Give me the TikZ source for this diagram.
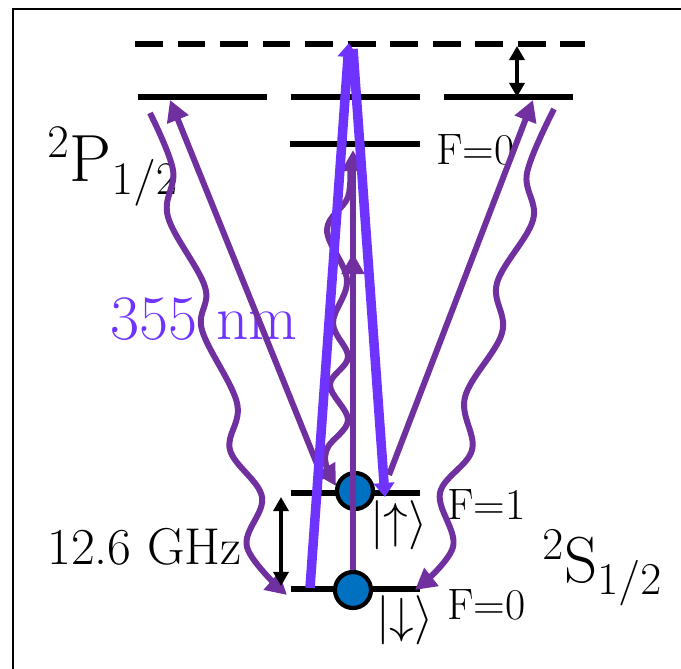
\RequirePackage{fix-cm}
\documentclass[tikz,border=0pt]{standalone}
\definecolor{ionpurple}{RGB}{112,48,160}
\definecolor{laserblue}{RGB}{111,51,255}
\definecolor{ionblue}{RGB}{0,112,192}
\usetikzlibrary{arrows.meta}

\begin{document}
\begin{tikzpicture}[x=0.02cm,y=-0.02cm,
  level/.style={line width=3.8pt},
  pump/.style={ionpurple,line width=3.4pt,-{Triangle[length=12pt,width=12.5pt]}},
  decay/.style={pump,line join=round},
  beam/.style={laserblue,line width=5.4pt,-{Triangle[length=8pt,width=11.5pt]}},
  gap/.style={line width=2.4pt,{Triangle[length=8pt,width=8.5pt]}-{Triangle[length=8pt,width=8.5pt]}},
  ion/.style={draw,circle,fill=ionblue,line width=2.4pt,minimum size=7.2mm,inner sep=0pt},
  lbl/.style={inner sep=0pt,anchor=base west}]
  \useasboundingbox (0,0) rectangle (681,669);
  % Frame
  \draw[line width=0.85pt] (13,669) -- (13,9) -- (681,9);
  % Virtual level
  \draw[level,line width=3pt,dash pattern=on 15.9pt off 8.3pt] (135,44) -- (585,44);
  % P levels
  \foreach \x in {138,291,444}
    \draw[level] (\x,97) -- +(129,0);
  \draw[level] (290,144) -- +(130,0);
  % S levels
  \draw[level,line width=3.3pt] (291,493) -- +(129,0);
  \draw[level,line width=3.3pt] (291,589) -- +(129,0);
  % Labels
  \node[lbl,font=\fontsize{38}{40}\selectfont] (pterm) at (47,182) {$^2$P$_{1/2}$};
  \node[lbl,font=\fontsize{37}{40}\selectfont] (sterm) at (542,583) {$^2$S$_{1/2}$};
  \node[lbl,font=\fontsize{36}{40}\selectfont,text=laserblue] (wavelen) at (110,340) {355 nm};
  \node[lbl,font=\fontsize{29.5}{32}\selectfont] (hfs) at (47,565) {12.6 GHz};
  \node[lbl,font=\fontsize{25}{28}\selectfont] (pF0lbl) at (436,165) {F=0};
  \node[lbl,font=\fontsize{25}{28}\selectfont] (sF1lbl) at (447,520) {F=1};
  \node[lbl,font=\fontsize{25}{28}\selectfont] (sF0lbl) at (447,620) {F=0};
  \node[lbl,font=\fontsize{28}{30}\selectfont] (ketup) at (370,538) {$|{\uparrow}\rangle$};
  \node[lbl,font=\fontsize{28}{30}\selectfont] (ketdn) at (376,633) {$|{\downarrow}\rangle$};
  % Ion states
  \node[ion] (up) at (355,491) {};
  \node[ion] (dn) at (353,590) {};
  % End points
  \coordinate (vtop) at (349,43);
  \coordinate (lbeam) at (310,588);
  \coordinate (rbeam) at (353,49);
  \coordinate (rtip) at (385,497);
  \coordinate (pL) at (170,100);
  \coordinate (pR) at (533,100);
  \coordinate (pF0) at (353,150);
  \coordinate (pmid) at (353,253);
  \coordinate (uL) at (323,479);
  \coordinate (uR) at (389,475);
  \coordinate (wLs) at (150,113);
  \coordinate (wLe) at (287,595);
  \coordinate (wRs) at (554,109);
  \coordinate (wRe) at (415,590);
  \coordinate (wCs) at (350,163);
  \coordinate (wCe) at (336,486);
  \coordinate (gT) at (517,46);
  \coordinate (gB) at (517,97);
  \coordinate (hT) at (281,497);
  \coordinate (hB) at (281,586);
  % Spontaneous decay
  \draw[decay] plot[smooth,tension=0.6] coordinates {(wLs) (173,170) (168,217) (205,287) (202,330) (237,403) (230,450) (262,497) (247,547) (wLe)};
  \draw[decay] plot[smooth,tension=0.6] coordinates {(wRs) (527,173) (533,220) (497,283) (502,333) (465,397) (472,450) (440,493) (453,547) (wRe)};
  \draw[decay] plot[smooth,tension=0.6] coordinates {(wCs) (348,197) (327,230) (347,280) (333,323) (348,357) (330,385) (348,420) (328,447) (326,465) (wCe)};
  % Excitation
  \draw[pump] (uL) -- (pL);
  \draw[pump] (uR) -- (pR);
  \draw[pump] (dn.north) -- (pF0);
  \draw[pump] (dn.north) -- (pmid);
  % Raman beams
  \draw[beam] (lbeam) -- (vtop);
  \draw[beam] (rbeam) -- (rtip);
  % Splittings
  \draw[gap] (gT) -- (gB);
  \draw[gap] (hT) -- (hB);
\end{tikzpicture}
\end{document}
